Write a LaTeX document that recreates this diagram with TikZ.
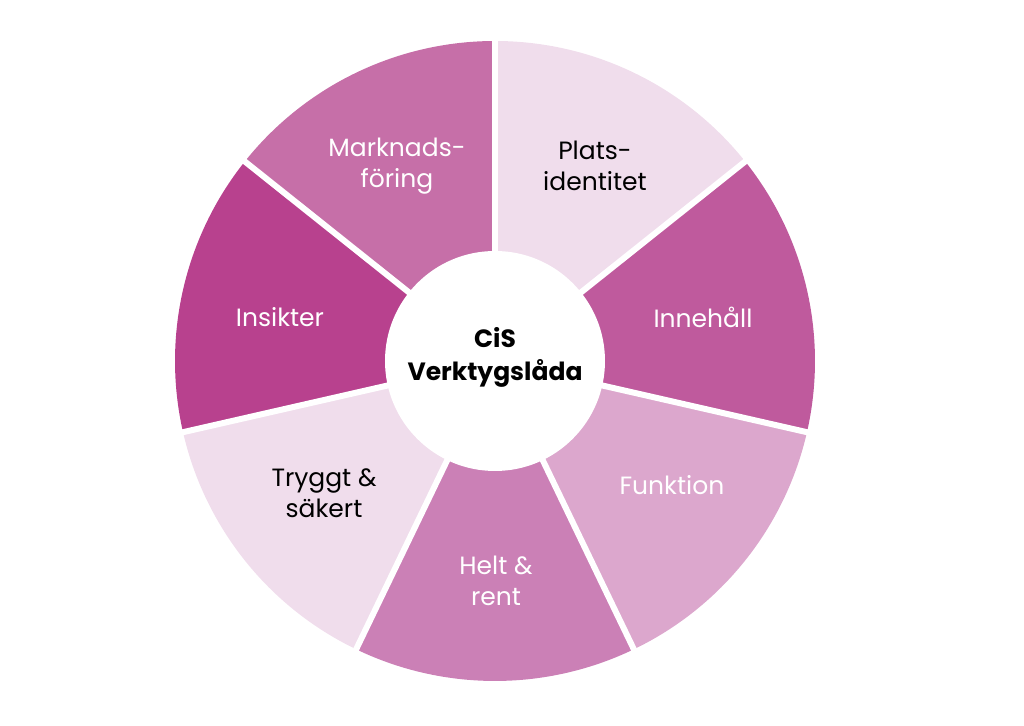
\documentclass[tikz,border=0pt]{standalone}
\usepackage{fontspec}
\setmainfont{Poppins}
\usepackage{tikz}

\definecolor{platsfarg}{HTML}{F0DDEC}
\definecolor{innehallfarg}{HTML}{BF5A9D}
\definecolor{funktionfarg}{HTML}{DCA7CD}
\definecolor{heltfarg}{HTML}{CB80B6}
\definecolor{tryggtfarg}{HTML}{F0DDEC}
\definecolor{insikterfarg}{HTML}{B8418E}
\definecolor{marknadfarg}{HTML}{C66FA8}

\begin{document}
\begin{tikzpicture}[x=0.5pt,y=0.5pt,
	sektor/.style={font=\fontsize{12.5}{15.5}\selectfont, align=center, inner sep=0pt},
	mitten/.style={font=\bfseries\fontsize{12.5}{16.5}\selectfont, align=center, inner sep=0pt}]
	\useasboundingbox (-495,-365) rectangle (529,361);
	
	\foreach \nr/\farg in {0/platsfarg,1/innehallfarg,2/funktionfarg,3/heltfarg,4/tryggtfarg,5/insikterfarg,6/marknadfarg}
		\fill[\farg] (0,0) -- ({90-360/7*\nr}:320) arc[start angle={90-360/7*\nr}, end angle={90-360/7*(\nr+1)}, radius=320] -- cycle;
	\foreach \nr in {0,...,6}
		\draw[white,line width=3pt] (0,0) -- ({90-360/7*\nr}:330);
	\fill[white] (0,0) circle[radius=110];
	
	\node[mitten,black] (mitt) at (0,4) {CiS\\Verktygslåda};
	\node[sektor,black] (plats) at (100,195) {Plats-\\identitet};
	\node[sektor,white] (innehall) at (208,44) {Innehåll};
	\node[sektor,white] (funktion) at (177,-124) {Funktion};
	\node[sektor,white] (helt) at (1,-220) {Helt \&\\rent};
	\node[sektor,black] (tryggt) at (-171,-132) {Tryggt \&\\säkert};
	\node[sektor,white] (insikter) at (-215,44) {Insikter};
	\node[sektor,white] (marknad) at (-98,195) {Marknads-\\föring};
\end{tikzpicture}
\end{document}
